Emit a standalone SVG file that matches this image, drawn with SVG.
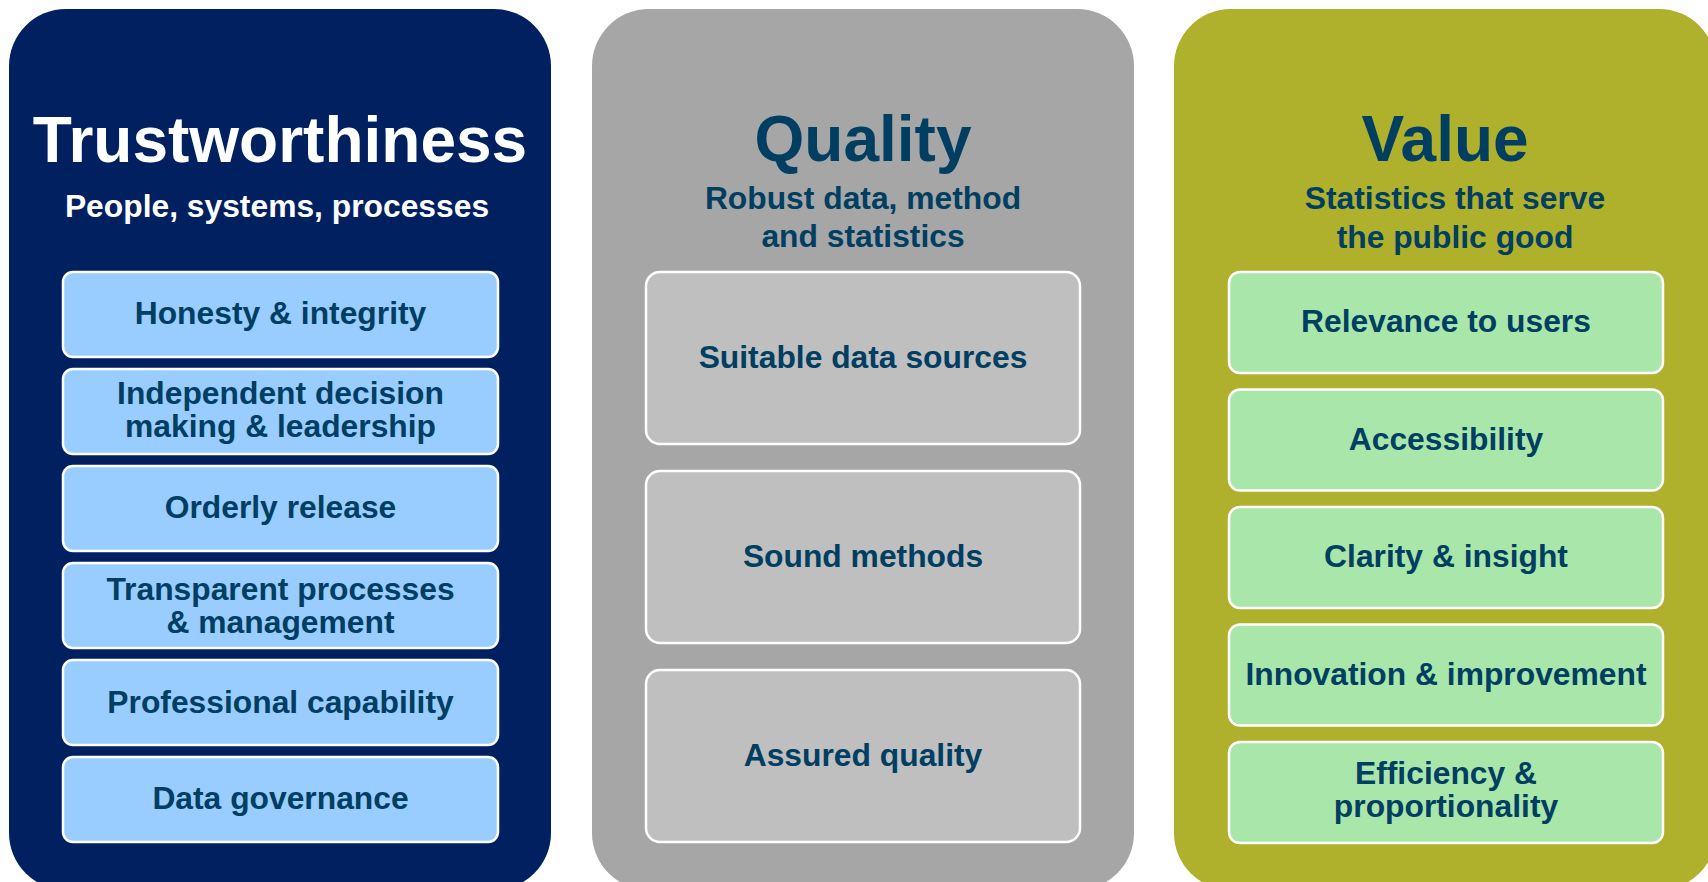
<svg xmlns="http://www.w3.org/2000/svg" width="1708" height="882" viewBox="0 0 1708 882">
  <style>
    text { font-family: "Liberation Sans", Arial, sans-serif; font-weight: bold; text-anchor: middle; }
    .title { font-size: 64px; }
    .sub { font-size: 31.8px; }
    .item { font-size: 31.8px; fill: #003E62; }
    .dark { fill: #003E62; }
    .white { fill: #FFFFFF; }
    .box { stroke: #FFFFFF; stroke-width: 2.5; }
    .blue { fill: #99CCFF; }
    .grey { fill: #BFBFBF; }
    .green { fill: #A9E6A9; }
  </style>
  <rect width="1708" height="882" fill="#FFFFFF"/>

  <g id="trustworthiness">
    <rect x="9" y="9" width="542" height="881" rx="57" ry="57" fill="#002060"/>
    <text class="title white" x="280" y="162">Trustworthiness</text>
    <text class="sub white" x="277" y="217">People, systems, processes</text>
  </g>
  <g id="t-honesty">
    <rect class="box blue" x="63" y="272" width="435" height="85" rx="10"/>
    <text class="item" x="280.5" y="324">Honesty &amp; integrity</text>
  </g>
  <g id="t-independent">
    <rect class="box blue" x="63" y="369" width="435" height="85" rx="10"/>
    <text class="item" x="280.5" y="404">Independent decision</text>
    <text class="item" x="280.5" y="437">making &amp; leadership</text>
  </g>
  <g id="t-orderly">
    <rect class="box blue" x="63" y="466" width="435" height="85" rx="10"/>
    <text class="item" x="280.5" y="518">Orderly release</text>
  </g>
  <g id="t-transparent">
    <rect class="box blue" x="63" y="563" width="435" height="85" rx="10"/>
    <text class="item" x="280.5" y="599.5">Transparent processes</text>
    <text class="item" x="280.5" y="632.5">&amp; management</text>
  </g>
  <g id="t-professional">
    <rect class="box blue" x="63" y="660" width="435" height="85" rx="10"/>
    <text class="item" x="280.5" y="713">Professional capability</text>
  </g>
  <g id="t-governance">
    <rect class="box blue" x="63" y="757" width="435" height="85" rx="10"/>
    <text class="item" x="280.5" y="809">Data governance</text>
  </g>

  <g id="quality">
    <rect x="592" y="9" width="542" height="881" rx="57" ry="57" fill="#A6A6A6"/>
    <text class="title dark" x="863" y="161">Quality</text>
    <text class="sub dark" x="863" y="208.5">Robust data, method</text>
    <text class="sub dark" x="863" y="247">and statistics</text>
  </g>
  <g id="q-sources">
    <rect class="box grey" x="646" y="272" width="434" height="172" rx="14"/>
    <text class="item" x="863" y="367.5">Suitable data sources</text>
  </g>
  <g id="q-methods">
    <rect class="box grey" x="646" y="471" width="434" height="172" rx="14"/>
    <text class="item" x="863" y="566.5">Sound methods</text>
  </g>
  <g id="q-assured">
    <rect class="box grey" x="646" y="670" width="434" height="172" rx="14"/>
    <text class="item" x="863" y="765.5">Assured quality</text>
  </g>

  <g id="value">
    <rect x="1174" y="9" width="542" height="881" rx="57" ry="57" fill="#AFB02B"/>
    <text class="title dark" x="1445" y="161">Value</text>
    <text class="sub dark" x="1455" y="209">Statistics that serve</text>
    <text class="sub dark" x="1455" y="248">the public good</text>
  </g>
  <g id="v-relevance">
    <rect class="box green" x="1229" y="272" width="434" height="101" rx="11"/>
    <text class="item" x="1446" y="332">Relevance to users</text>
  </g>
  <g id="v-accessibility">
    <rect class="box green" x="1229" y="389.5" width="434" height="101" rx="11"/>
    <text class="item" x="1446" y="449.5">Accessibility</text>
  </g>
  <g id="v-clarity">
    <rect class="box green" x="1229" y="507" width="434" height="101" rx="11"/>
    <text class="item" x="1446" y="567">Clarity &amp; insight</text>
  </g>
  <g id="v-innovation">
    <rect class="box green" x="1229" y="624.5" width="434" height="101" rx="11"/>
    <text class="item" x="1446" y="684.5">Innovation &amp; improvement</text>
  </g>
  <g id="v-efficiency">
    <rect class="box green" x="1229" y="742" width="434" height="101" rx="11"/>
    <text class="item" x="1446" y="783.5">Efficiency &amp;</text>
    <text class="item" x="1446" y="817">proportionality</text>
  </g>

  <g id="connectors"></g>
</svg>
